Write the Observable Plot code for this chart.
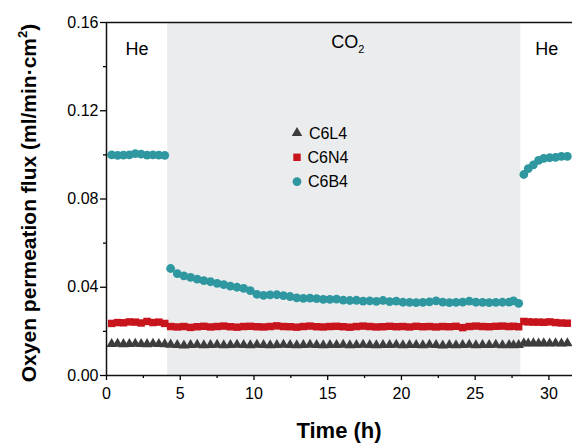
<!DOCTYPE html>
<html>
<head>
<meta charset="utf-8">
<script src="https://cdn.jsdelivr.net/npm/d3@7"></script>
<script src="https://cdn.jsdelivr.net/npm/@observablehq/plot@0.6"></script>
<style>
  html, body { margin: 0; padding: 0; background: white; }
  #chart { position: relative; width: 572px; height: 444px; overflow: hidden; }
</style>
</head>
<body>
<div id="chart"></div>
<script>
// ---- data ----
const seriesNames = ["C6L4", "C6N4", "C6B4"];
const seriesColors = ["#3d3d3d", "#c8141c", "#2e97a0"];
const seriesSymbols = ["triangle", "square", "circle"];

const phaseNames = ["He", "CO2", "He"];
const phaseStart = [0, 4.15, 28.1];
const phaseEnd = [4.15, 28.1, 31.6];

const timeHe1 = [0.35, 0.75, 1.15, 1.55, 1.95, 2.35, 2.75, 3.15, 3.55, 3.95];
const timeCO2 = [4.35, 4.8, 5.25, 5.7, 6.15, 6.6, 7.05, 7.5, 7.95, 8.4, 8.85, 9.3, 9.75, 10.2, 10.65, 11.1, 11.55, 12.0,
  12.45, 12.9, 13.35, 13.8, 14.25, 14.7, 15.15, 15.6, 16.05, 16.5, 16.95, 17.4, 17.85, 18.3, 18.75, 19.2, 19.65, 20.1,
  20.55, 21.0, 21.45, 21.9, 22.35, 22.8, 23.25, 23.7, 24.15, 24.6, 25.05, 25.5, 25.95, 26.4, 26.85, 27.3, 27.6, 27.95];
const timeHe2 = [28.3, 28.6, 28.95, 29.3, 29.65, 30.05, 30.45, 30.85, 31.25];

const c6b4He1 = [0.1000, 0.0998, 0.0999, 0.1000, 0.1006, 0.1003, 0.0999, 0.1000, 0.0999, 0.0998];
const c6b4CO2 = [0.0485, 0.0462, 0.0452, 0.0445, 0.0437, 0.0430, 0.0425, 0.0418, 0.0412, 0.0405, 0.0400, 0.0395,
  0.0385, 0.0368, 0.0363, 0.0365, 0.0366, 0.0362, 0.0358, 0.0352, 0.0350, 0.0351, 0.0348, 0.0345, 0.0345, 0.0346,
  0.0342, 0.0340, 0.0341, 0.0337, 0.0338, 0.0336, 0.0340, 0.0335, 0.0337, 0.0332, 0.0331, 0.0330, 0.0331, 0.0334,
  0.0338, 0.0333, 0.0330, 0.0331, 0.0333, 0.0337, 0.0332, 0.0331, 0.0330, 0.0331, 0.0332, 0.0333, 0.0338, 0.0327];
const c6b4He2 = [0.0911, 0.0938, 0.0955, 0.0975, 0.0984, 0.0987, 0.0989, 0.0993, 0.0993];

const c6n4He1 = [0.0236, 0.0240, 0.0239, 0.0243, 0.0242, 0.0238, 0.0245, 0.0240, 0.0242, 0.0236];
const c6n4CO2 = [0.0222, 0.0220, 0.0222, 0.0218, 0.0221, 0.0223, 0.0220, 0.0222, 0.0224, 0.0221, 0.0219, 0.0222,
  0.0223, 0.0221, 0.0220, 0.0222, 0.0225, 0.0222, 0.0221, 0.0219, 0.0222, 0.0224, 0.0221, 0.0220, 0.0222, 0.0223,
  0.0221, 0.0219, 0.0222, 0.0224, 0.0222, 0.0220, 0.0221, 0.0223, 0.0221, 0.0222, 0.0220, 0.0223, 0.0221, 0.0222,
  0.0220, 0.0222, 0.0221, 0.0223, 0.0217, 0.0222, 0.0224, 0.0222, 0.0221, 0.0223, 0.0224, 0.0222, 0.0223, 0.0221];
const c6n4He2 = [0.0245, 0.0243, 0.0242, 0.0242, 0.0241, 0.0243, 0.0240, 0.0238, 0.0237];

const c6l4He1 = [0.0143, 0.0144, 0.0142, 0.0143, 0.0144, 0.0143, 0.0142, 0.0144, 0.0143, 0.0142];
const c6l4CO2 = [0.0140, 0.0138, 0.0136, 0.0138, 0.0139, 0.0137, 0.0138, 0.0139, 0.0137, 0.0138, 0.0139, 0.0138,
  0.0137, 0.0139, 0.0138, 0.0137, 0.0138, 0.0139, 0.0138, 0.0137, 0.0138, 0.0139, 0.0138, 0.0137, 0.0138, 0.0138,
  0.0139, 0.0137, 0.0138, 0.0139, 0.0138, 0.0137, 0.0138, 0.0138, 0.0139, 0.0137, 0.0138, 0.0138, 0.0137, 0.0139,
  0.0138, 0.0136, 0.0138, 0.0137, 0.0138, 0.0139, 0.0137, 0.0138, 0.0138, 0.0139, 0.0137, 0.0138, 0.0137, 0.0138];
const c6l4He2 = [0.0146, 0.0145, 0.0146, 0.0145, 0.0146, 0.0145, 0.0146, 0.0145, 0.0146];

const xTicks = [0, 5, 10, 15, 20, 25, 30];
const xMinor = [2.5, 7.5, 12.5, 17.5, 22.5, 27.5];
const yTicks = [0, 0.04, 0.08, 0.12, 0.16];
const yMinor = [0.02, 0.06, 0.10, 0.14];

const xLabel = "Time (h)";
const yLabelMain = "Oxyen permeation flux (ml/min·cm";
const yLabelSup = "2";
const yLabelEnd = ")";

// ---- build tables ----
const times = [...timeHe1, ...timeCO2, ...timeHe2];
const seriesValues = [
  [...c6l4He1, ...c6l4CO2, ...c6l4He2],
  [...c6n4He1, ...c6n4CO2, ...c6n4He2],
  [...c6b4He1, ...c6b4CO2, ...c6b4He2]
];
const points = [];
seriesNames.forEach((name, i) => {
  seriesValues[i].forEach((v, j) => points.push({series: name, t: times[j], v}));
});
const phases = phaseNames.map((n, i) => ({name: n, x1: phaseStart[i], x2: phaseEnd[i], mid: (phaseStart[i] + phaseEnd[i]) / 2}));

const font = "'Liberation Sans', Arial, Helvetica, sans-serif";
const rBySymbol = {triangle: 3.9, square: 4.2, circle: 4.4};

const plot = Plot.plot({
  width: 572,
  height: 444,
  marginLeft: 106,
  marginRight: 0,
  marginTop: 22,
  marginBottom: 69,
  style: {fontFamily: font, fontSize: "16px", color: "black", background: "white", overflow: "hidden"},
  x: {domain: [0, 31.6]},
  y: {domain: [0, 0.16]},
  marks: [
    Plot.rect(phases.filter(d => d.name === "CO2"), {x1: "x1", x2: "x2", fill: "#ebecee"}),
    ...seriesNames.map((name, i) =>
      Plot.dot(points.filter(d => d.series === name), {
        x: "t", y: "v", symbol: seriesSymbols[i], fill: seriesColors[i], stroke: "none",
        r: rBySymbol[seriesSymbols[i]]
      })
    ),
    Plot.text(phases.filter(d => d.name === "He"), {x: "mid", text: "name", frameAnchor: "top", dy: 20, fontSize: 18, fill: "black"}),
    Plot.axisY({ticks: yTicks, tickSize: 6, tickPadding: 2, tickFormat: d3.format(".2f"), label: null, fontSize: 16, strokeWidth: 1.3}),
    Plot.axisY({ticks: yMinor, tickSize: 3, tickFormat: () => "", label: null, strokeWidth: 1.3}),
    Plot.axisX({ticks: xTicks, tickSize: 5, tickPadding: 7, tickFormat: d3.format("d"), label: null, fontSize: 16, strokeWidth: 1.3}),
    Plot.axisX({ticks: xMinor, tickSize: 3, tickFormat: () => "", label: null, strokeWidth: 1.3}),
    Plot.ruleX([0], {stroke: "#111", strokeWidth: 1.5}),
    Plot.ruleY([0], {stroke: "#111", strokeWidth: 1.5}),
    Plot.ruleY([0.16], {stroke: "#111", strokeWidth: 1.5})
  ]
});

document.getElementById("chart").appendChild(plot);

// ---- extra text & legend via d3 on the same SVG ----
const svg = d3.select(plot);
const xs = plot.scale("x");

// CO2 label with subscript
const co2 = phases.find(d => d.name === "CO2");
const co2Text = svg.append("text")
  .attr("x", xs.apply(co2.mid) + 4)
  .attr("y", 48)
  .attr("text-anchor", "middle")
  .attr("font-family", font)
  .attr("font-size", 18)
  .attr("fill", "black");
co2Text.append("tspan").text("CO");
co2Text.append("tspan").attr("font-size", 11).attr("dy", 5).text("2");

// Y label
const yl = svg.append("text")
  .attr("transform", `translate(36, 203) rotate(-90)`)
  .attr("text-anchor", "middle")
  .attr("font-family", font)
  .attr("font-weight", "bold")
  .attr("font-size", 21)
  .attr("fill", "black");
yl.append("tspan").text(yLabelMain);
yl.append("tspan").attr("font-size", 13).attr("dy", -9).text(yLabelSup);
yl.append("tspan").attr("dy", 9).text(yLabelEnd);

// X label
svg.append("text")
  .attr("x", (106 + 572) / 2)
  .attr("y", 438)
  .attr("text-anchor", "middle")
  .attr("font-family", font)
  .attr("font-weight", "bold")
  .attr("font-size", 22)
  .attr("fill", "black")
  .text(xLabel);

// Legend
const legend = svg.append("g").attr("transform", "translate(297, 133)");
const symMap = {triangle: d3.symbolTriangle, square: d3.symbolSquare, circle: d3.symbolCircle};
seriesNames.forEach((name, i) => {
  const g = legend.append("g").attr("transform", `translate(0, ${i * 24.3})`);
  const r = rBySymbol[seriesSymbols[i]];
  g.append("path")
    .attr("d", d3.symbol(symMap[seriesSymbols[i]], r * r * Math.PI)())
    .attr("fill", seriesColors[i]);
  g.append("text")
    .attr("x", 31)
    .attr("y", 0)
    .attr("dy", "0.35em")
    .attr("font-family", font)
    .attr("font-size", 16)
    .attr("fill", "black")
    .text(name);
});
</script>
</body>
</html>
